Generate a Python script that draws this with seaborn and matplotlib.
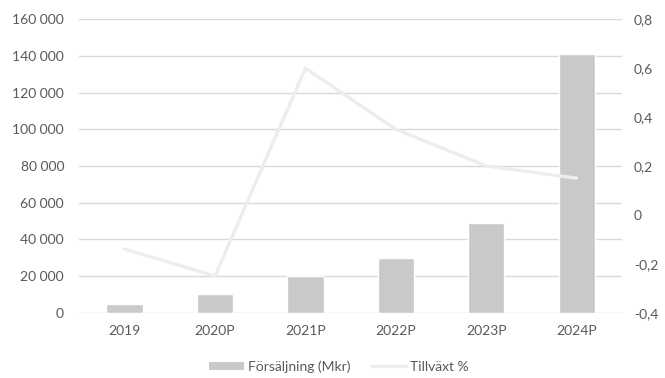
import matplotlib
matplotlib.use("Agg")
import matplotlib.pyplot as plt
from matplotlib.ticker import FuncFormatter, FixedLocator
from matplotlib.patches import Patch
from matplotlib.lines import Line2D
import seaborn as sns
import pandas as pd

years = ["2019", "2020P", "2021P", "2022P", "2023P", "2024P"]
sales_mkr = [5000, 10000, 20000, 30000, 49000, 141000]
growth = [-0.14, -0.25, 0.60, 0.35, 0.20, 0.15]

bar_label = "Försäljning (Mkr)"
line_label = "Tillväxt %"

sns.set_theme(style="white")
plt.rcParams["font.family"] = ["Lato", "DejaVu Sans"]

text_color = "#595959"
bar_color = "#c9c9c9"
line_color = "#ededed"
grid_color = "#d9d9d9"
fs = 10

df = pd.DataFrame({"year": years, "sales": sales_mkr, "growth": growth})

fig = plt.figure(figsize=(6.65, 3.78), dpi=100)
ax = fig.add_axes([0.1193, 0.1728, 0.8160, 0.7762])

sns.barplot(data=df, x="year", y="sales", color=bar_color, width=0.4,
            saturation=1, ax=ax, zorder=2)
ax.set_ylim(0, 160000)
ax.set_xlim(-0.5, len(years) - 0.5)
ax.yaxis.set_major_locator(FixedLocator(range(0, 160001, 20000)))
ax.yaxis.set_major_formatter(FuncFormatter(lambda v, p: f"{int(v):,}".replace(",", " ")))
ax.grid(axis="y", color=grid_color, linewidth=1.0, zorder=0)
ax.set_axisbelow(True)
ax.set_xlabel("")
ax.set_ylabel("")

ax2 = ax.twinx()
sns.lineplot(x=list(range(len(years))), y=growth, color=line_color,
             linewidth=2.4, ax=ax2, zorder=3)
ax2.set_ylim(-0.4, 0.8)
ax2.yaxis.set_major_locator(FixedLocator([-0.4, -0.2, 0, 0.2, 0.4, 0.6, 0.8]))


def pct_fmt(v, p):
    if abs(v) < 1e-9:
        return "0"
    return f"{v:.1f}".replace(".", ",")


ax2.yaxis.set_major_formatter(FuncFormatter(pct_fmt))
ax2.set_ylabel("")
ax2.grid(False)

for a in (ax, ax2):
    for s in a.spines.values():
        s.set_visible(False)
    a.tick_params(axis="both", length=0, labelsize=fs, colors=text_color)
ax.tick_params(axis="y", pad=11)
ax2.tick_params(axis="y", pad=8.5)
ax.tick_params(axis="x", pad=9)

handles = [Patch(facecolor=bar_color, edgecolor="none", label=bar_label),
           Line2D([0], [0], color=line_color, linewidth=2.4, label=line_label)]
fig.legend(handles=handles, loc="center", bbox_to_anchor=(0.51, 0.03), ncol=2,
           frameon=False, fontsize=fs, labelcolor=text_color, handlelength=2.5,
           handletextpad=0.3, columnspacing=1.5, handleheight=0.6)

fig.savefig("out.png", dpi=100)
